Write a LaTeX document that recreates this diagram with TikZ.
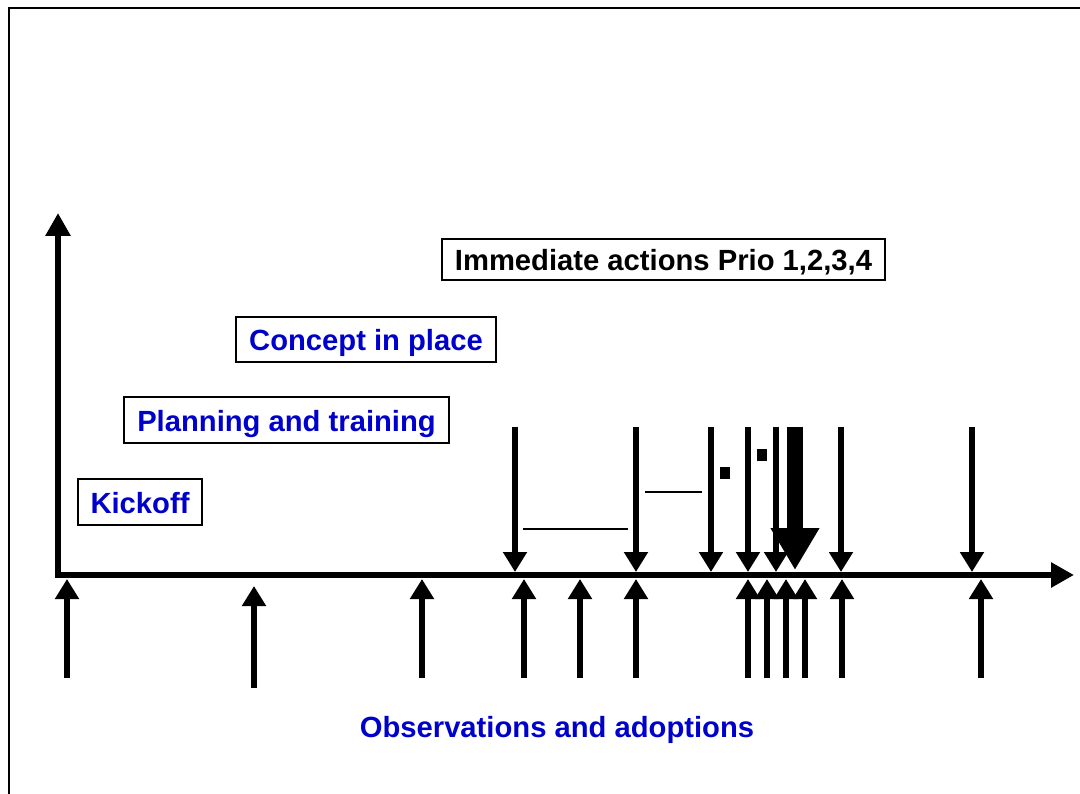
\documentclass[tikz,border=0pt]{standalone}
\usepackage{fontspec}
\setmainfont{Liberation Sans}
\usetikzlibrary{arrows.meta}
\definecolor{lblue}{RGB}{0,0,204}
\begin{document}
\begin{tikzpicture}[x=1pt,y=-1pt,
  lbl/.style={font=\fontsize{29.2}{34}\selectfont\bfseries},
  box/.style={lbl,draw=black,line width=2.2pt,fill=white,inner sep=0pt,text height=25pt,text depth=2pt},
  axisline/.style={line width=6.5pt,line join=miter},
  arr/.style={line width=6.5pt,-{Triangle[length=20pt,width=23pt]}},
  bigarr/.style={line width=16pt,-{Triangle[length=42pt,width=46pt]}},
  hline/.style={line width=2pt},
  sq/.style={fill=black,inner sep=0pt,minimum width=10pt,minimum height=12pt}
]
\useasboundingbox (0,0) rectangle (1080,794);
% frame
\draw[line width=2.5pt] (9,794) -- (9,8) -- (1080,8);
% axes
\coordinate (ytip) at (58,213);
\coordinate (orig) at (58,575);
\coordinate (xtip) at (1074,575);
\draw[axisline,{Triangle[length=23pt,width=24pt]}-{Triangle[length=23pt,width=24pt]}] (ytip) -- (orig) -- (xtip);
% down arrows
\foreach \x [count=\i] in {515,636,711,748,776,841,972} {
  \coordinate (dt\i) at (\x,427);
  \coordinate (db\i) at (\x,572);
  \draw[arr] (dt\i) -- (db\i);
}
% big arrow
\coordinate (bt) at (795,427);
\coordinate (bb) at (795,570);
\draw[bigarr] (bt) -- (bb);
% up arrows
\foreach \x [count=\i] in {67,422,524,580,636,748,767,786,805,842,981} {
  \coordinate (ub\i) at (\x,678);
  \coordinate (ut\i) at (\x,579);
  \draw[arr] (ub\i) -- (ut\i);
}
\coordinate (ubx) at (254,688);
\coordinate (utx) at (254,586);
\draw[arr] (ubx) -- (utx);
% thin lines
\coordinate (h1a) at (523,529); \coordinate (h1b) at (628,529);
\coordinate (h2a) at (645,492); \coordinate (h2b) at (702,492);
\draw[hline] (h1a) -- (h1b);
\draw[hline] (h2a) -- (h2b);
% squares
\node[sq] (s1) at (725,473) {};
\node[sq] (s2) at (762,455) {};
% boxes
\node[box,minimum width=124pt,minimum height=46pt,text=lblue] (kick) at (140,502) {Kickoff};
\node[box,minimum width=325pt,minimum height=46pt,text=lblue] (plan) at (286.5,420) {Planning and training};
\node[box,minimum width=260pt,minimum height=45pt,text=lblue] (conc) at (366,339.5) {Concept in place};
\node[box,minimum width=443pt,minimum height=41pt,text=black] (imm) at (663.5,259.5) {Immediate actions Prio 1,2,3,4};
\node[lbl,text=lblue,inner sep=0pt] (obs) at (557,730) {Observations and adoptions};
\end{tikzpicture}
\end{document}
